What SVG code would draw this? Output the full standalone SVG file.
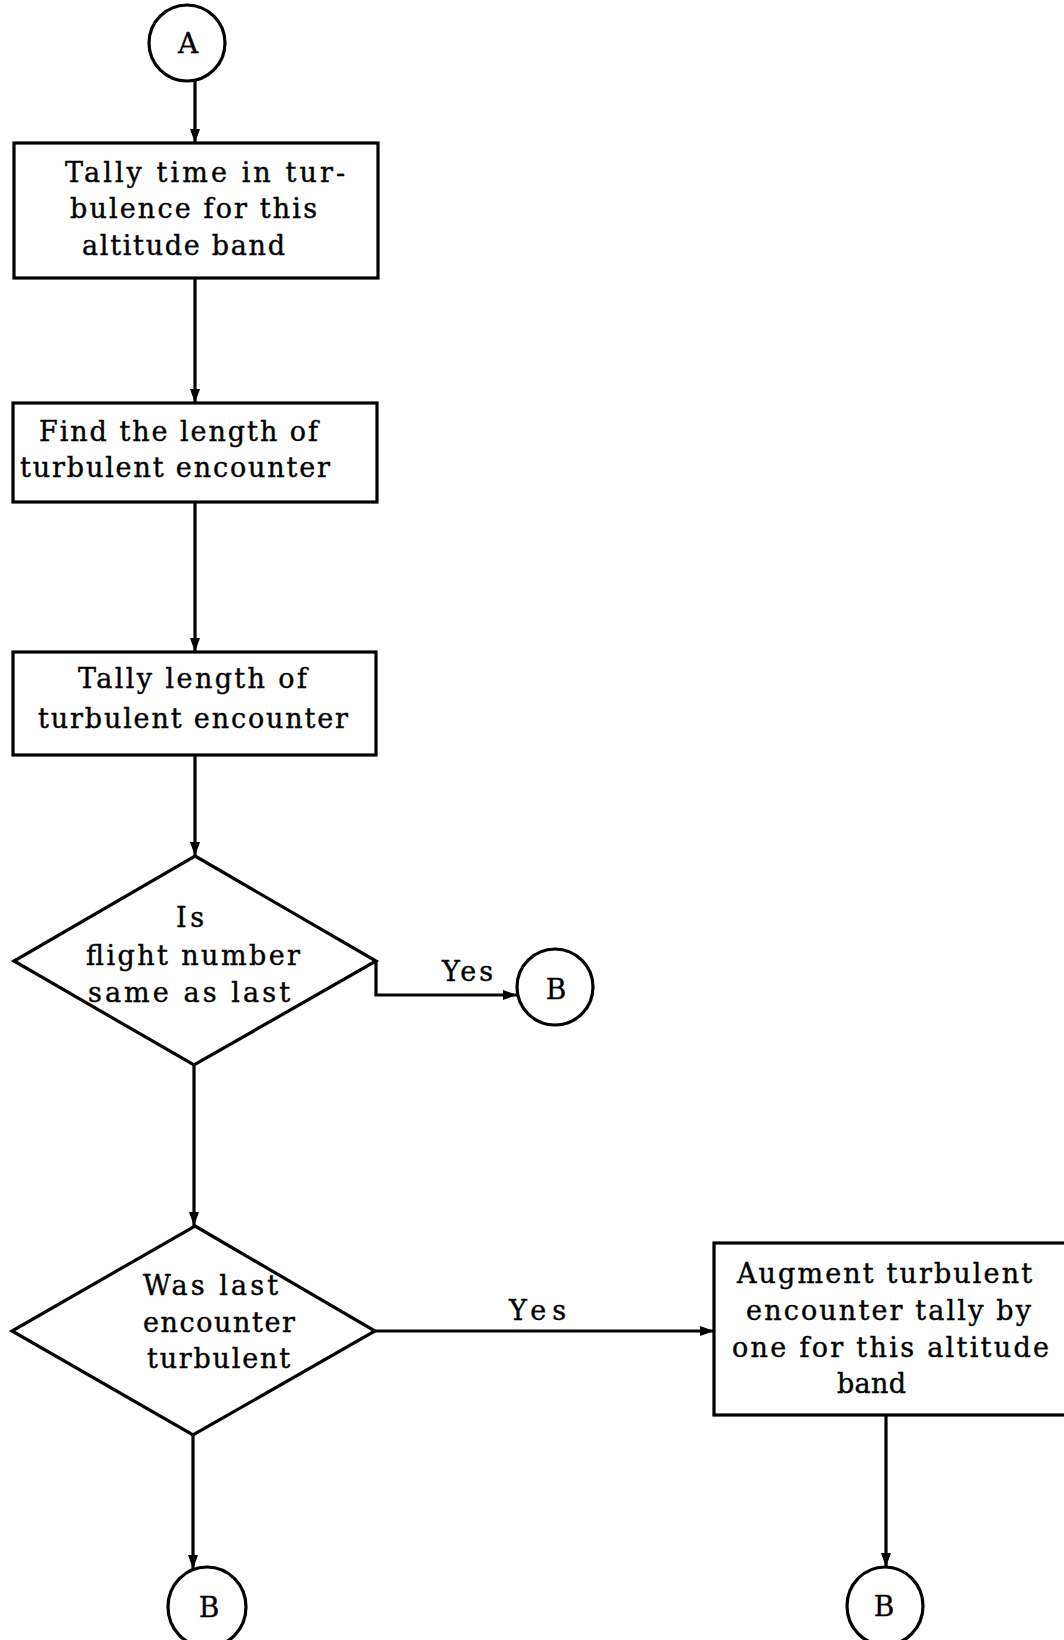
<svg xmlns="http://www.w3.org/2000/svg" width="1064" height="1640" viewBox="0 0 1064 1640">
<style>
  .shape { fill: #ffffff; stroke: #000000; stroke-width: 3.2; }
  .conn { fill: none; stroke: #000000; stroke-width: 3.2; }
  .t { font-family: "DejaVu Serif", "Liberation Serif", serif; font-size: 27px; fill: #000000; stroke: #000000; stroke-width: 0.4; }
  .c { font-family: "DejaVu Serif", "Liberation Serif", serif; font-size: 28px; fill: #000000; stroke: #000000; stroke-width: 0.3; text-anchor: middle; }
</style>
<defs>
  <marker id="arrow" viewBox="0 0 14 10" refX="14" refY="5" markerWidth="14" markerHeight="10" markerUnits="userSpaceOnUse" orient="auto">
    <path d="M0,0 L14,5 L0,10 Z" fill="#000000"/>
  </marker>
</defs>
<rect x="0" y="0" width="1064" height="1640" fill="#ffffff"/>

<g id="connectors">
  <path class="conn" d="M195,80 L195,143" marker-end="url(#arrow)"/>
  <path class="conn" d="M195,278 L195,403" marker-end="url(#arrow)"/>
  <path class="conn" d="M195,502 L195,652" marker-end="url(#arrow)"/>
  <path class="conn" d="M195,755 L195,856" marker-end="url(#arrow)"/>
  <path class="conn" d="M376,961 L376,995 L517,995" marker-end="url(#arrow)"/>
  <path class="conn" d="M194,1065 L194,1226" marker-end="url(#arrow)"/>
  <path class="conn" d="M375,1331 L714,1331" marker-end="url(#arrow)"/>
  <path class="conn" d="M193,1435 L193,1569" marker-end="url(#arrow)"/>
  <path class="conn" d="M886,1415 L886,1567" marker-end="url(#arrow)"/>
  <text class="t" x="442" y="981" textLength="51" lengthAdjust="spacing">Yes</text>
  <text class="t" x="509" y="1320" textLength="57" lengthAdjust="spacing">Yes</text>
</g>

<g id="start-A">
  <circle class="shape" cx="187" cy="43" r="38"/>
  <text class="c" x="188" y="53">A</text>
</g>

<g id="tally-time">
  <rect class="shape" x="14" y="143" width="364" height="135"/>
  <text class="t" x="65" y="182" textLength="280" lengthAdjust="spacing">Tally time in tur-</text>
  <text class="t" x="70" y="218" textLength="247" lengthAdjust="spacing">bulence for this</text>
  <text class="t" x="82" y="255" textLength="203" lengthAdjust="spacing">altitude band</text>
</g>

<g id="find-length">
  <rect class="shape" x="13" y="403" width="364" height="99"/>
  <text class="t" x="39" y="441" textLength="279" lengthAdjust="spacing">Find the length of</text>
  <text class="t" x="20" y="477" textLength="310" lengthAdjust="spacing">turbulent encounter</text>
</g>

<g id="tally-length">
  <rect class="shape" x="13" y="652" width="363" height="103"/>
  <text class="t" x="78" y="688" textLength="229" lengthAdjust="spacing">Tally length of</text>
  <text class="t" x="38" y="728" textLength="310" lengthAdjust="spacing">turbulent encounter</text>
</g>

<g id="decision-flight">
  <polygon class="shape" points="195,856 376,961 194,1065 14,961"/>
  <text class="t" x="176" y="927" textLength="28" lengthAdjust="spacing">Is</text>
  <text class="t" x="86" y="965" textLength="214" lengthAdjust="spacing">flight number</text>
  <text class="t" x="88" y="1002" textLength="202" lengthAdjust="spacing">same as last</text>
</g>

<g id="B-1">
  <circle class="shape" cx="555" cy="987" r="38"/>
  <text class="c" x="556" y="999">B</text>
</g>

<g id="decision-last">
  <polygon class="shape" points="195,1226 375,1331 193,1435 12,1331"/>
  <text class="t" x="143" y="1295" textLength="135" lengthAdjust="spacing">Was last</text>
  <text class="t" x="143" y="1332" textLength="152" lengthAdjust="spacing">encounter</text>
  <text class="t" x="147" y="1368" textLength="143" lengthAdjust="spacing">turbulent</text>
</g>

<g id="augment">
  <rect class="shape" x="714" y="1243" width="360" height="172"/>
  <text class="t" x="737" y="1283" textLength="295" lengthAdjust="spacing">Augment turbulent</text>
  <text class="t" x="746" y="1320" textLength="285" lengthAdjust="spacing">encounter tally by</text>
  <text class="t" x="732" y="1357" textLength="317" lengthAdjust="spacing">one for this altitude</text>
  <text class="t" x="837" y="1393" textLength="69" lengthAdjust="spacing">band</text>
</g>

<g id="B-2">
  <ellipse class="shape" cx="207" cy="1607" rx="39" ry="40"/>
  <text class="c" x="209" y="1617">B</text>
</g>

<g id="B-3">
  <ellipse class="shape" cx="885" cy="1606" rx="38" ry="39"/>
  <text class="c" x="884" y="1616">B</text>
</g>
</svg>
